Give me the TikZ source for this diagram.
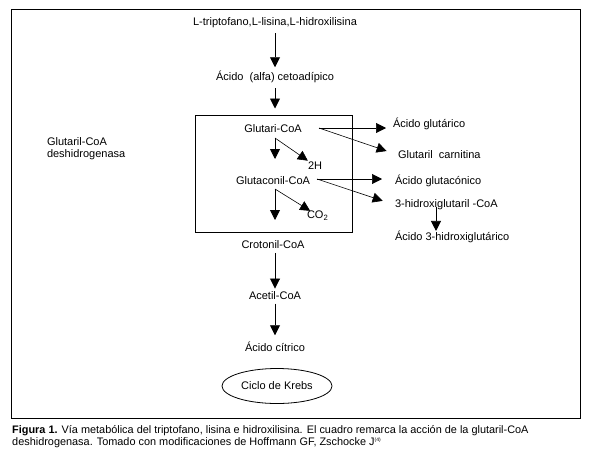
\documentclass[tikz,border=0pt]{standalone}
\usepackage{fontspec}
\setmainfont{Liberation Sans}
\usetikzlibrary{arrows.meta,shapes.geometric}
\begin{document}
\begin{tikzpicture}[x=1pt,y=-1pt,
  lbl/.style={font=\fontsize{11}{12}\selectfont, inner sep=0pt, outer sep=0pt, anchor=base},
  lblw/.style={lbl, anchor=base west},
  arr/.style={-{Triangle[length=10pt,width=10pt]}, line width=0.9pt},
  darr/.style={-{Triangle[length=10pt,width=10pt]}, line width=0.6pt},
  frame/.style={line width=1pt}]
\useasboundingbox (0,0) rectangle (596,453);
\draw[frame] (11.5,9.5) rectangle (580,418);
% main column
\node[lbl] (ltrip) at (275,25.8) {L-triptofano,L-lisina,L-hidroxilisina};
\node[lbl] (cetoad) at (275,80.8) {Ácido\ \ (alfa) cetoadípico};
\node[draw, frame, minimum width=157pt, minimum height=117pt, inner sep=0pt] (box) at (273.5,173.5) {};
\node[lbl] (glutari) at (273,132.5) {Glutari-CoA};
\node[lblw] (twoh) at (308,169.5) {2H};
\node[lbl] (glutaconil) at (273,184.8) {Glutaconil-CoA};
\node[lblw] (co2) at (307,218.5) {CO\textsubscript{2}};
\node[lbl] (crotonil) at (273,248.8) {Crotonil-CoA};
\node[lbl] (acetil) at (275,299.5) {Acetil-CoA};
\node[lbl] (citrico) at (275,351.8) {Ácido cítrico};
\node[draw, ellipse, line width=0.8pt, minimum width=110pt, minimum height=35pt, inner sep=0pt] (krebs) at (277,386) {};
\node[lbl, anchor=center] (krebstxt) at (krebs.center) {Ciclo de Krebs};
% left label
\node[lblw, align=left, font=\fontsize{11}{12.5}\selectfont] (enzyme) at (47,157.5) {Glutaril-CoA\\deshidrogenasa};
% right column
\node[lblw] (glutarico) at (393,127.8) {Ácido glutárico};
\node[lblw] (carnitina) at (398,158.8) {Glutaril\ \ carnitina};
\node[lblw] (glutaconico) at (395,184.8) {Ácido glutacónico};
\node[lblw] (hidroxi) at (395,207.8) {3-hidroxiglutaril -CoA};
\node[lblw] (acido3) at (395,240.5) {Ácido 3-hidroxiglutárico};
% connector points
\coordinate (gA) at (275,138);
\coordinate (gT) at (275,159);
\coordinate (cA) at (275,189);
\coordinate (cT) at (275,220);
\coordinate (gB) at (319,128);
\coordinate (cB) at (317,179);
\coordinate (hA) at (436,207);
% arrows
\draw[arr, shorten <=5pt, shorten >=4pt] (ltrip.south -| 275,0) -- (cetoad.north -| 275,0);
\draw[arr, shorten <=5pt, shorten >=6pt] (cetoad.south -| 275,0) -- (box.north -| 275,0);
\draw[arr] (gA) -- (gT);
\draw[darr, shorten >=2pt] (gA) -- (twoh);
\draw[arr] (cA) -- (cT);
\draw[darr] (cA) -- (co2);
\draw[darr, shorten >=7pt] (gB) -- (gB -| glutarico.west);
\draw[darr, shorten >=12pt] (gB) -- (carnitina.west);
\draw[darr, shorten >=13pt] (cB) -- (cB -| glutaconico.west);
\draw[darr, shorten >=13pt] (cB) -- (hidroxi.west);
\draw[darr] (hA) -- (acido3.north -| hA);
\draw[arr, shorten <=4pt, shorten >=3pt] (crotonil.south -| 275,0) -- (acetil.north -| 275,0);
\draw[arr, shorten <=4pt, shorten >=7pt] (acetil.south -| 275,0) -- (citrico.north -| 275,0);
% caption
\node[anchor=base west, inner sep=0pt, align=left, font=\fontsize{10.9}{12}\selectfont] (caption) at (12,445.5)
  {\textbf{Figura 1.} Vía metabólica del triptofano, lisina e hidroxilisina. El cuadro remarca la acción de la glutaril-CoA\\deshidrogenasa. Tomado con modificaciones de Hoffmann GF, Zschocke J\textsuperscript{\tiny(4)}};
\end{tikzpicture}
\end{document}
